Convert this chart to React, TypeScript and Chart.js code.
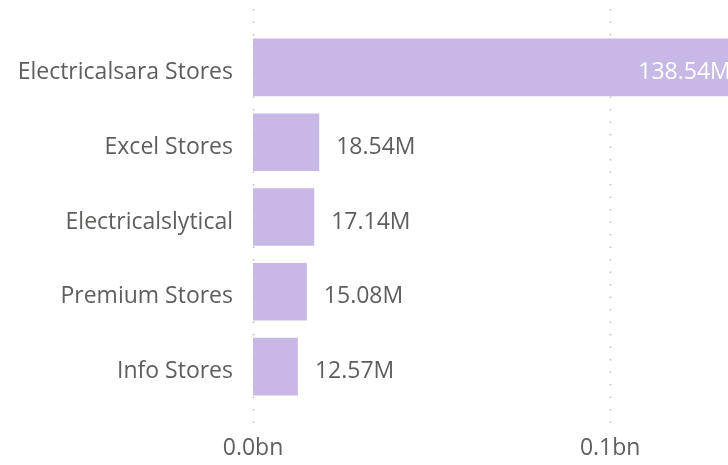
import React, { useEffect, useRef } from "react";
import { Chart, registerables } from "chart.js";

Chart.register(...registerables);

const categories = [
  "Electricalsara Stores",
  "Excel Stores",
  "Electricalslytical",
  "Premium Stores",
  "Info Stores",
];
const values = [138.54e6, 18.54e6, 17.14e6, 15.08e6, 12.57e6];
const valueLabels = ["138.54M", "18.54M", "17.14M", "15.08M", "12.57M"];
const xTickValues = [0, 0.1e9];
const xTickLabels = ["0.0bn", "0.1bn"];

const FONT_FAMILY = '"Open Sans", "Noto Sans", sans-serif';
const TEXT_COLOR = "#605E5C";
const BAR_COLOR = "#C7B8E6";

const gridPlugin = {
  id: "dottedGrid",
  beforeDatasetsDraw(chart: any) {
    const { ctx, chartArea } = chart;
    const xScale = chart.scales.x;
    ctx.save();
    ctx.strokeStyle = "#BDBDBD";
    ctx.lineWidth = 1.5;
    ctx.setLineDash([1.5, 11]);
    xTickValues.forEach((v) => {
      const px = Math.round(xScale.getPixelForValue(v)) + 0.5;
      ctx.beginPath();
      ctx.moveTo(px, chartArea.top - 21);
      ctx.lineTo(px, chartArea.bottom + 23);
      ctx.stroke();
    });
    ctx.restore();
  },
};

const labelPlugin = {
  id: "valueLabels",
  afterDatasetsDraw(chart: any) {
    const { ctx, chartArea } = chart;
    const meta = chart.getDatasetMeta(0);
    ctx.save();
    ctx.font = `23px ${FONT_FAMILY}`;
    ctx.textBaseline = "middle";
    meta.data.forEach((bar: any, i: number) => {
      const text = valueLabels[i];
      const w = ctx.measureText(text).width;
      const endX = bar.x;
      const y = bar.y + 5;
      if (endX + 17 + w > chartArea.right) {
        ctx.fillStyle = "#FFFFFF";
        ctx.textAlign = "right";
        ctx.fillText(text, endX - 17, y);
      } else {
        ctx.fillStyle = TEXT_COLOR;
        ctx.textAlign = "left";
        ctx.fillText(text, endX + 17, y);
      }
    });
    ctx.restore();
  },
};

export default function App() {
  const canvasRef = useRef<HTMLCanvasElement | null>(null);

  useEffect(() => {
    if (!canvasRef.current) return;
    const chart = new Chart(canvasRef.current, {
      type: "bar",
      data: {
        labels: categories,
        datasets: [
          {
            data: values,
            backgroundColor: BAR_COLOR,
            borderWidth: 0,
            categoryPercentage: 1,
            barPercentage: 0.77,
          },
        ],
      },
      options: {
        indexAxis: "y",
        responsive: false,
        animation: false,
        layout: { padding: { top: 30, left: 0, right: 0, bottom: 0 } },
        plugins: {
          legend: { display: false },
          tooltip: { enabled: false },
        },
        scales: {
          x: {
            min: 0,
            max: 133e6,
            grid: { display: false, drawTicks: false },
            border: { display: false },
            afterBuildTicks: (scale: any) => {
              scale.ticks = xTickValues.map((v) => ({ value: v }));
            },
            afterFit: (scale: any) => {
              scale.height = 61;
              scale.paddingLeft = 0;
              scale.paddingRight = 0;
            },
            ticks: {
              padding: 31,
              maxRotation: 0,
              autoSkip: false,
              color: TEXT_COLOR,
              font: { family: FONT_FAMILY, size: 23 },
              callback: (value: any) => {
                const idx = xTickValues.indexOf(Number(value));
                return idx >= 0 ? xTickLabels[idx] : "";
              },
            },
          },
          y: {
            grid: { display: false, drawTicks: false },
            border: { display: false },
            afterFit: (scale: any) => {
              scale.width = 253;
              scale.paddingTop = 0;
              scale.paddingBottom = 0;
            },
            ticks: {
              padding: 20,
              labelOffset: 5,
              color: TEXT_COLOR,
              font: { family: FONT_FAMILY, size: 23 },
            },
          },
        },
      },
      plugins: [gridPlugin, labelPlugin],
    });
    return () => chart.destroy();
  }, []);

  return (
    <div style={{ position: "absolute", left: 0, top: 0, width: 728, height: 465 }}>
      <canvas
        ref={canvasRef}
        width={728}
        height={465}
        style={{ display: "block", width: 728, height: 465 }}
      />
    </div>
  );
}
